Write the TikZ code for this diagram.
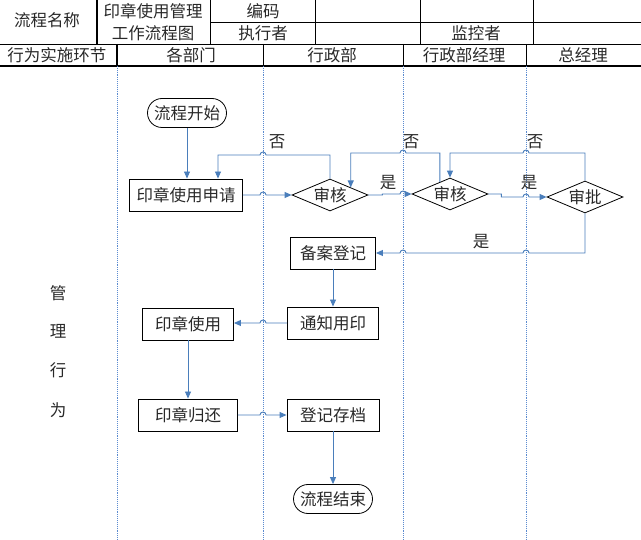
\documentclass[tikz,border=0pt]{standalone}
\usepackage{fontspec}
\setmainfont{Noto Sans CJK SC}
\usetikzlibrary{shapes.geometric,arrows.meta}
\definecolor{flowblue}{RGB}{74,126,187}
\definecolor{laneblue}{RGB}{91,139,208}
\definecolor{txt}{RGB}{40,40,40}
\begin{document}
\begin{tikzpicture}[x=1pt,y=-1pt,
  font=\fontsize{16.5}{19}\selectfont,
  every node/.style={text=txt},
  grid/.style={black, line width=0.6pt},
  thickgrid/.style={black, line width=1.3pt},
  lane/.style={laneblue, densely dotted, line width=0.9pt},
  flow/.style={flowblue, line width=0.9pt, -{Triangle[length=7pt,width=6pt]}},
  box/.style={draw=black, line width=0.9pt, minimum height=32pt, inner sep=0pt},
  term/.style={draw=black, line width=0.8pt, rounded corners=14.5pt, minimum width=79pt, minimum height=29pt, inner sep=0pt},
  dia/.style={draw=black, diamond, line width=0.8pt, aspect=2.4, minimum width=76pt, minimum height=32pt, inner sep=0pt},
  lbl/.style={inner sep=0pt}]
\useasboundingbox (0,0) rectangle (641,540);
% header grid
\draw[grid] (210,22) -- (641,22);
\draw[grid] (0,44) -- (641,44);
\draw[thickgrid] (0,66) -- (641,66);
\draw[thickgrid] (97,0) -- (97,44);
\foreach \x in {210,315,420,533} \draw[grid] (\x,0) -- (\x,44);
\draw[thickgrid] (117,44) -- (117,66);
\foreach \x in {263,403,526} \draw[grid] (\x,44) -- (\x,66);
% header texts
\node[lbl] (h1) at (47,20) {流程名称};
\node[lbl] (h2) at (153,11) {印章使用管理};
\node[lbl] (h3) at (153,33) {工作流程图};
\node[lbl] (h4) at (263,11) {编码};
\node[lbl] (h5) at (263,33) {执行者};
\node[lbl] (h6) at (476,33) {监控者};
\node[lbl] (c0) at (57,55) {行为实施环节};
\node[lbl] (c1) at (191,55) {各部门};
\node[lbl] (c2) at (332,55) {行政部};
\node[lbl] (c3) at (464,55) {行政部经理};
\node[lbl] (c4) at (583,55) {总经理};
% lanes
\coordinate (L1) at (117,66);
\coordinate (L2) at (263,66);
\coordinate (L3) at (403,66);
\coordinate (L4) at (526,66);
\foreach \c in {L1,L2,L3,L4} \draw[lane] (\c) -- ++(0,474);
% left label
\node[lbl] (g1) at (58,293) {管};
\node[lbl] (g2) at (58,331) {理};
\node[lbl] (g3) at (58,370) {行};
\node[lbl] (g4) at (58,410) {为};
% nodes
\node[term] (start) at (187,113) {流程开始};
\node[box, minimum width=113pt] (apply) at (186,195) {印章使用申请};
\node[dia] (rev1) at (330,195) {审核};
\node[dia] (rev2) at (450,194) {审核};
\node[dia] (appr) at (585,197) {审批};
\node[box, minimum width=85pt] (file) at (333,253) {备案登记};
\node[box, minimum width=91pt] (notify) at (333,323) {通知用印};
\node[box, minimum width=91pt] (use) at (188,324) {印章使用};
\node[box, minimum width=99pt] (ret) at (188,415) {印章归还};
\node[box, minimum width=92pt] (arch) at (333,415) {登记存档};
\node[term] (end) at (333,499) {流程结束};
% route levels
\coordinate (top1) at (0,155);
\coordinate (top2) at (0,153);
% connectors
\draw[flow] (start.south) -- (start.south |- apply.north);
\draw[flow] (apply.east) -- ([xshift=-3pt]L2 |- apply.east) arc[start angle=180,end angle=0,radius=3pt] -- (rev1.west);
\draw[flow] (rev1.north) -- (rev1.north |- top1) -- ([xshift=3pt]L2 |- top1) arc[start angle=0,end angle=180,radius=3pt] -- ([xshift=32pt]apply.north |- top1) -- ([xshift=32pt]apply.north);
\draw[flow] (rev1.east) -- ([xshift=14pt]rev1.east) -- ([xshift=14pt]rev1.east |- rev2.west) -- ([xshift=-3pt]L3 |- rev2.west) arc[start angle=180,end angle=0,radius=3pt] -- (rev2.west);
\draw[flow] (rev2.130) -- (rev2.130 |- top2) -- ([xshift=3pt]L3 |- top2) arc[start angle=0,end angle=180,radius=3pt] -- (rev1.20 |- top2) -- (rev1.20);
\draw[flow] (rev2.east) -- ([xshift=13pt]rev2.east) -- ([xshift=13pt]rev2.east |- appr.west) -- ([xshift=-3pt]L4 |- appr.west) arc[start angle=180,end angle=0,radius=3pt] -- (appr.west);
\draw[flow] (appr.north) -- (appr.north |- top2) -- ([xshift=3pt]L4 |- top2) arc[start angle=0,end angle=180,radius=3pt] -- (rev2.north |- top2) -- (rev2.north);
\draw[flow] (appr.south) -- (appr.south |- file.east) -- ([xshift=3pt]L4 |- file.east) arc[start angle=0,end angle=180,radius=3pt] -- ([xshift=3pt]L3 |- file.east) arc[start angle=0,end angle=180,radius=3pt] -- (file.east);
\draw[flow] (file.south) -- (notify.north);
\draw[flow] (notify.west) -- ([xshift=3pt]L2 |- notify.west) arc[start angle=0,end angle=180,radius=3pt] -- (use.east |- notify.west);
\draw[flow] (use.south) -- (ret.north);
\draw[flow] (ret.east) -- ([xshift=-3pt]L2 |- ret.east) arc[start angle=180,end angle=0,radius=3pt] -- (arch.west);
\draw[flow] (arch.south) -- (end.north);
% labels
\node[lbl] (n1) at (277,142) {否};
\node[lbl] (n2) at (411,142) {否};
\node[lbl] (n3) at (535,142) {否};
\node[lbl] (y1) at (388,183) {是};
\node[lbl] (y2) at (529,183) {是};
\node[lbl] (y3) at (481,242) {是};
\end{tikzpicture}
\end{document}
